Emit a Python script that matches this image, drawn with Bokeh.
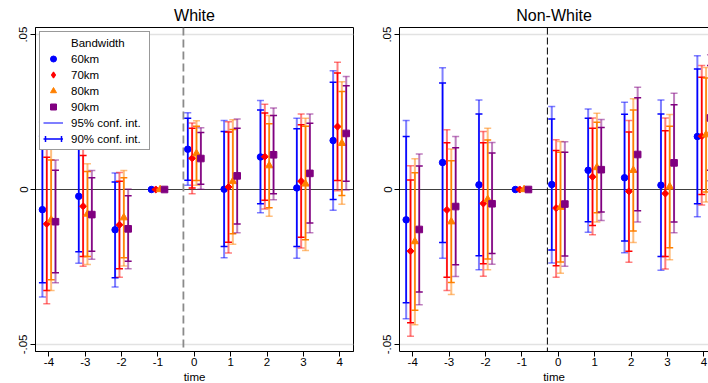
import math
from bokeh.plotting import figure
from bokeh.layouts import row
from bokeh.models import (Range1d, FixedTicker, Span, Legend, LegendItem, Title,
                          LinearAxis)
from bokeh.embed import file_html
from bokeh.resources import INLINE

# ---------------- data ----------------
time = [-4, -3, -2, -1, 0, 1, 2, 3, 4]
bandwidths = ["60km", "70km", "80km", "90km"]
panel_titles = ["White", "Non-White"]

# White panel: point estimates, 90% and 95% confidence bounds
w60_b    = [-0.0065, -0.0022, -0.0130, 0.0, 0.0130, 0.0001, 0.0105, 0.0005, 0.0158]
w60_lo90 = [-0.0301, -0.0201, -0.0285, 0.0, 0.0030, -0.0184, -0.0046, -0.0184, -0.0032]
w60_hi90 = [0.0172, 0.0157, 0.0024, 0.0, 0.0230, 0.0187, 0.0257, 0.0196, 0.0346]
w60_lo95 = [-0.0347, -0.0238, -0.0315, 0.0, 0.0014, -0.0220, -0.0075, -0.0222, -0.0067]
w60_hi95 = [0.0218, 0.0194, 0.0053, 0.0, 0.0248, 0.0223, 0.0287, 0.0230, 0.0383]

w70_b    = [-0.0111, -0.0054, -0.0114, 0.0, 0.0101, 0.0008, 0.0106, 0.0027, 0.0203]
w70_lo90 = [-0.0326, -0.0216, -0.0256, 0.0, 0.0005, -0.0170, -0.0035, -0.0154, 0.0029]
w70_hi90 = [0.0104, 0.0110, 0.0027, 0.0, 0.0198, 0.0186, 0.0247, 0.0209, 0.0376]
w70_lo95 = [-0.0369, -0.0248, -0.0283, 0.0, -0.0014, -0.0205, -0.0063, -0.0189, -0.0004]
w70_hi95 = [0.0147, 0.0142, 0.0055, 0.0, 0.0215, 0.0219, 0.0275, 0.0244, 0.0411]

w80_b    = [-0.0098, -0.0079, -0.0091, 0.0, 0.0116, 0.0026, 0.0077, 0.0018, 0.0149]
w80_lo90 = [-0.0291, -0.0216, -0.0220, 0.0, 0.0029, -0.0143, -0.0059, -0.0162, -0.0019]
w80_hi90 = [0.0095, 0.0058, 0.0038, 0.0, 0.0204, 0.0194, 0.0212, 0.0204, 0.0316]
w80_lo95 = [-0.0326, -0.0242, -0.0247, 0.0, 0.0014, -0.0177, -0.0086, -0.0197, -0.0048]
w80_hi95 = [0.0130, 0.0083, 0.0061, 0.0, 0.0222, 0.0225, 0.0239, 0.0230, 0.0348]

w90_b    = [-0.0104, -0.0081, -0.0127, 0.0, 0.0100, 0.0044, 0.0112, 0.0052, 0.0181]
w90_lo90 = [-0.0269, -0.0199, -0.0232, 0.0, 0.0017, -0.0111, -0.0014, -0.0108, 0.0027]
w90_hi90 = [0.0062, 0.0038, -0.0020, 0.0, 0.0184, 0.0198, 0.0239, 0.0214, 0.0335]
w90_lo95 = [-0.0301, -0.0225, -0.0256, 0.0, 0.0001, -0.0140, -0.0033, -0.0140, -0.0002]
w90_hi95 = [0.0095, 0.0061, 0.0002, 0.0, 0.0199, 0.0228, 0.0263, 0.0244, 0.0365]

# Non-White panel
n60_b    = [-0.0098, 0.0087, 0.0015, 0.0, 0.0016, 0.0062, 0.0038, 0.0014, 0.0171]
n60_lo90 = [-0.0366, -0.0171, -0.0214, 0.0, -0.0195, -0.0104, -0.0166, -0.0216, -0.0046]
n60_hi90 = [0.0171, 0.0344, 0.0244, 0.0, 0.0228, 0.0230, 0.0243, 0.0244, 0.0389]
n60_lo95 = [-0.0417, -0.0222, -0.0259, 0.0, -0.0237, -0.0138, -0.0204, -0.0261, -0.0088]
n60_hi95 = [0.0223, 0.0393, 0.0289, 0.0, 0.0268, 0.0260, 0.0282, 0.0289, 0.0432]

n70_b    = [-0.0199, -0.0066, -0.0045, 0.0, -0.0060, 0.0041, -0.0006, -0.0013, 0.0172]
n70_lo90 = [-0.0430, -0.0283, -0.0240, 0.0, -0.0246, -0.0116, -0.0199, -0.0216, -0.0016]
n70_hi90 = [0.0031, 0.0151, 0.0151, 0.0, 0.0126, 0.0198, 0.0186, 0.0190, 0.0362]
n70_lo95 = [-0.0474, -0.0326, -0.0280, 0.0, -0.0283, -0.0146, -0.0235, -0.0257, -0.0050]
n70_hi95 = [0.0077, 0.0193, 0.0187, 0.0, 0.0161, 0.0231, 0.0223, 0.0231, 0.0400]

n80_b    = [-0.0168, -0.0104, -0.0032, 0.0, -0.0057, 0.0071, 0.0062, 0.0009, 0.0177]
n80_lo90 = [-0.0390, -0.0300, -0.0224, 0.0, -0.0234, -0.0075, -0.0134, -0.0188, -0.0008]
n80_hi90 = [0.0054, 0.0093, 0.0160, 0.0, 0.0120, 0.0217, 0.0257, 0.0204, 0.0360]
n80_lo95 = [-0.0437, -0.0339, -0.0259, 0.0, -0.0270, -0.0105, -0.0171, -0.0227, -0.0040]
n80_hi95 = [0.0099, 0.0131, 0.0198, 0.0, 0.0155, 0.0246, 0.0293, 0.0242, 0.0394]

n90_b    = [-0.0129, -0.0055, -0.0046, 0.0, -0.0047, 0.0064, 0.0113, 0.0086, 0.0231]
n90_lo90 = [-0.0331, -0.0243, -0.0207, 0.0, -0.0215, -0.0073, -0.0069, -0.0105, 0.0062]
n90_hi90 = [0.0076, 0.0135, 0.0118, 0.0, 0.0120, 0.0200, 0.0296, 0.0274, 0.0400]
n90_lo95 = [-0.0372, -0.0281, -0.0241, 0.0, -0.0248, -0.0100, -0.0105, -0.0140, 0.0028]
n90_hi95 = [0.0115, 0.0171, 0.0152, 0.0, 0.0154, 0.0226, 0.0330, 0.0311, 0.0435]

y_ticks = [-0.05, 0.0, 0.05]
y_tick_labels = ["-.05", "0", ".05"]
event_line = -0.3

# ---------------- style ----------------
FONT = "Liberation Sans"
colors = ["#0000ff", "#ff0000", "#ff8000", "#800080"]
markers = ["circle", "square", "triangle", "square"]
msizes = [6.5, 5.0, 7.5, 6.6]
mangles = [0.0, math.pi / 4, 0.0, 0.0]
offsets = [-0.18, -0.06, 0.06, 0.18]

white = [(w60_b, w60_lo90, w60_hi90, w60_lo95, w60_hi95),
         (w70_b, w70_lo90, w70_hi90, w70_lo95, w70_hi95),
         (w80_b, w80_lo90, w80_hi90, w80_lo95, w80_hi95),
         (w90_b, w90_lo90, w90_hi90, w90_lo95, w90_hi95)]
nonwhite = [(n60_b, n60_lo90, n60_hi90, n60_lo95, n60_hi95),
            (n70_b, n70_lo90, n70_hi90, n70_lo95, n70_hi95),
            (n80_b, n80_lo90, n80_hi90, n80_lo95, n80_hi95),
            (n90_b, n90_lo90, n90_hi90, n90_lo95, n90_hi95)]

Y0, Y1 = -0.0523, 0.0523


def make_panel(title, series, xr, width, border_left, border_right, dash_color,
               dash_width, dash_pattern, title_offset):
    p = figure(width=width, height=383, x_range=Range1d(*xr), y_range=Range1d(Y0, Y1),
               output_backend="svg", toolbar_location=None,
               min_border_left=border_left, min_border_right=border_right,
               min_border_top=27, min_border_bottom=32)
    p.title.text = title
    p.title.align = "center"
    p.title.text_font = FONT
    p.title.text_font_size = "16px"
    p.title.text_font_style = "normal"
    p.title.text_color = "black"
    p.title.standoff = 7
    p.title.offset = title_offset
    p.background_fill_color = "white"
    p.border_fill_color = "white"
    p.outline_line_color = "black"
    p.outline_line_width = 1

    p.xgrid.visible = False
    p.ygrid.ticker = FixedTicker(ticks=[y_ticks[0], y_ticks[2]])
    p.ygrid.grid_line_color = "#e2e2e2"
    p.ygrid.grid_line_width = 1.5

    xa = p.below[0]
    xa.ticker = FixedTicker(ticks=time)
    xa.major_label_overrides = {t: str(t) for t in time}
    ya = p.left[0]
    ya.ticker = FixedTicker(ticks=y_ticks)
    ya.major_label_overrides = dict(zip(y_ticks, y_tick_labels))
    ya.major_label_orientation = "vertical"
    for ax in (xa, ya):
        ax.axis_line_color = "black"
        ax.axis_line_width = 1
        ax.major_tick_line_color = "black"
        ax.major_tick_out = 5
        ax.major_tick_in = 0
        ax.minor_tick_out = 0
        ax.minor_tick_in = 0
        ax.major_label_text_font = FONT
        ax.major_label_text_font_size = "11.5px"
        ax.major_label_text_color = "black"
    xa.major_label_standoff = 1
    ya.major_label_standoff = 3

    p.add_layout(Span(location=0, dimension="width", line_color="#404040",
                      line_width=1.2, level="underlay"))
    p.add_layout(Span(location=event_line, dimension="height", line_color=dash_color,
                      line_width=dash_width, line_dash=dash_pattern, level="underlay"))

    out = []
    for k, (b, lo90, hi90, lo95, hi95) in enumerate(series):
        c = colors[k]
        xs = [t + offsets[k] for t in time]
        r95 = p.segment(x0=xs, y0=lo95, x1=xs, y1=hi95, line_color=c,
                        line_alpha=0.5, line_width=2)
        p.scatter(x=xs + xs, y=lo95 + hi95, marker="dash", size=7, line_color=c,
                  line_alpha=0.5, line_width=1.5)
        r90 = p.segment(x0=xs, y0=lo90, x1=xs, y1=hi90, line_color=c, line_width=1.5)
        p.scatter(x=xs + xs, y=lo90 + hi90, marker="dash", size=7, line_color=c,
                  line_width=1.5)
        rm = p.scatter(x=xs, y=b, marker=markers[k], size=msizes[k], angle=mangles[k],
                       fill_color=c, line_color=c, line_width=1)
        out.append((r95, r90, rm))

    p.add_layout(Title(text="time", align="center", offset=title_offset,
                       text_font=FONT, text_font_size="11.5px",
                       text_font_style="normal", text_color="black", standoff=0),
                 "below")
    return p, out


p1, rs1 = make_panel(panel_titles[0], white, (-4.37, 4.38), 354, 35, 1,
                     "#8a8a8a", 1.8, "8 4", 0)
p2, rs2 = make_panel(panel_titles[1], nonwhite, (-4.363, 4.126), 354, 45, 0,
                     "black", 1, "7 3", 4.5)

# right panel runs past the window edge: no outline on the right side
p2.outline_line_color = None
top_axis = LinearAxis(ticker=FixedTicker(ticks=[]), major_tick_out=0, major_tick_in=0,
                      minor_tick_out=0, minor_tick_in=0, major_label_standoff=0,
                      axis_line_color="black", axis_line_width=1)
p2.add_layout(top_axis, "above")

# ---------------- legend ----------------
# helper renderers for legend glyphs only (their single point lies off the frame)
off_x, off_y = [-99.0], [0.0]
head = p1.scatter(x=off_x, y=off_y, marker="circle", size=1, fill_alpha=0, line_alpha=0)
diamond = p1.scatter(x=off_x, y=off_y, marker="diamond", fill_color=colors[1],
                     line_color=colors[1], line_width=1.2)
capbox = p1.rect(x=off_x, y=off_y, width=0.01, height=0.001, fill_alpha=0,
                 line_color=colors[0], line_width=1.5, line_dash="0 19 6 22 6 3")

items = [LegendItem(label="Bandwidth", renderers=[head]),
         LegendItem(label=bandwidths[0], renderers=[rs1[0][2]]),
         LegendItem(label=bandwidths[1], renderers=[diamond]),
         LegendItem(label=bandwidths[2], renderers=[rs1[2][2]]),
         LegendItem(label=bandwidths[3], renderers=[rs1[3][2]]),
         LegendItem(label="95% conf. int.", renderers=[rs1[0][0]]),
         LegendItem(label="90% conf. int.", renderers=[rs1[0][1], capbox])]
legend = Legend(items=items, location="top_left", margin=4, padding=3, spacing=1,
                glyph_width=20, glyph_height=15, label_height=15, label_width=75,
                label_standoff=8, label_text_font=FONT, label_text_font_size="11.5px",
                label_text_color="black", border_line_color="#333333",
                border_line_width=1, background_fill_color="white",
                background_fill_alpha=1)
p1.add_layout(legend)

layout = row(p1, p2, spacing=0)
open("out.html", "w").write(file_html(layout, INLINE))
